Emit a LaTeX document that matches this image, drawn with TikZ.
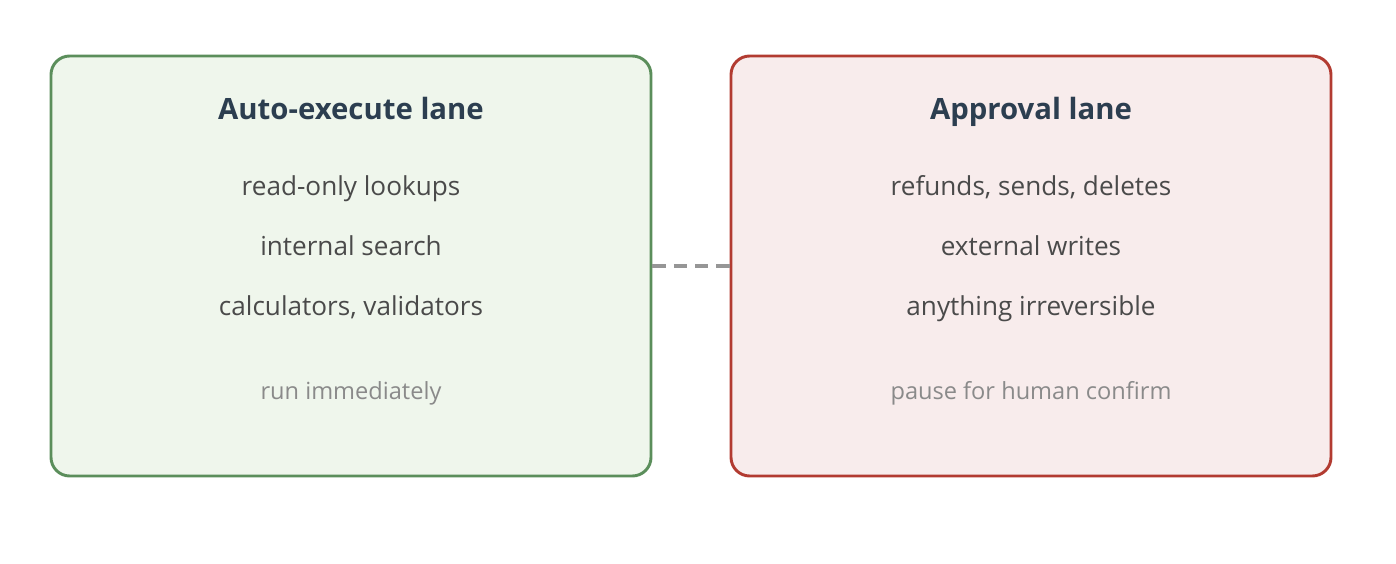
\documentclass[tikz,border=0pt]{standalone}
\usepackage{fontspec}
\setmainfont{Open Sans}
\usepackage{xcolor}
\definecolor{autoedge}{HTML}{5B8E5B}
\definecolor{autofill}{HTML}{EFF6EC}
\definecolor{appredge}{HTML}{B23B31}
\definecolor{apprfill}{HTML}{F8ECEC}
\definecolor{titletext}{HTML}{2C3E50}
\definecolor{itemtext}{HTML}{4A4A4A}
\definecolor{notetext}{HTML}{8A8A8A}
\begin{document}
\begin{tikzpicture}[x=0.75pt,y=-0.75pt,
  lane/.style={draw,line width=2.2pt,rounded corners=14pt,minimum width=450pt,minimum height=315pt,inner sep=0},
  title/.style={anchor=base,font=\fontsize{22}{26}\selectfont\bfseries,text=titletext},
  item/.style={anchor=base,font=\fontsize{19.6}{23}\selectfont,text=itemtext},
  note/.style={anchor=base,font=\fontsize{17.7}{21}\selectfont,text=notetext}]
\useasboundingbox (0,0) rectangle (1396,564);
\node[lane,draw=autoedge,fill=autofill] (auto) at (351,266) {};
\node[lane,draw=appredge,fill=apprfill] (appr) at (1031,266) {};
\draw[notetext!90,line width=2.4pt,dash pattern=on 10pt off 6pt] (auto.east) -- (appr.west);
\node[title] (autotitle) at (351,119) {Auto-execute lane};
\node[item] (auto1) at (351,195) {read-only lookups};
\node[item] (auto2) at (351,255) {internal search};
\node[item] (auto3) at (351,315) {calculators, validators};
\node[note] (autonote) at (351,399) {run immediately};
\node[title] (apprtitle) at (1031,119) {Approval lane};
\node[item] (appr1) at (1031,195) {refunds, sends, deletes};
\node[item] (appr2) at (1031,255) {external writes};
\node[item] (appr3) at (1031,315) {anything irreversible};
\node[note] (apprnote) at (1031,399) {pause for human confirm};
\end{tikzpicture}
\end{document}
